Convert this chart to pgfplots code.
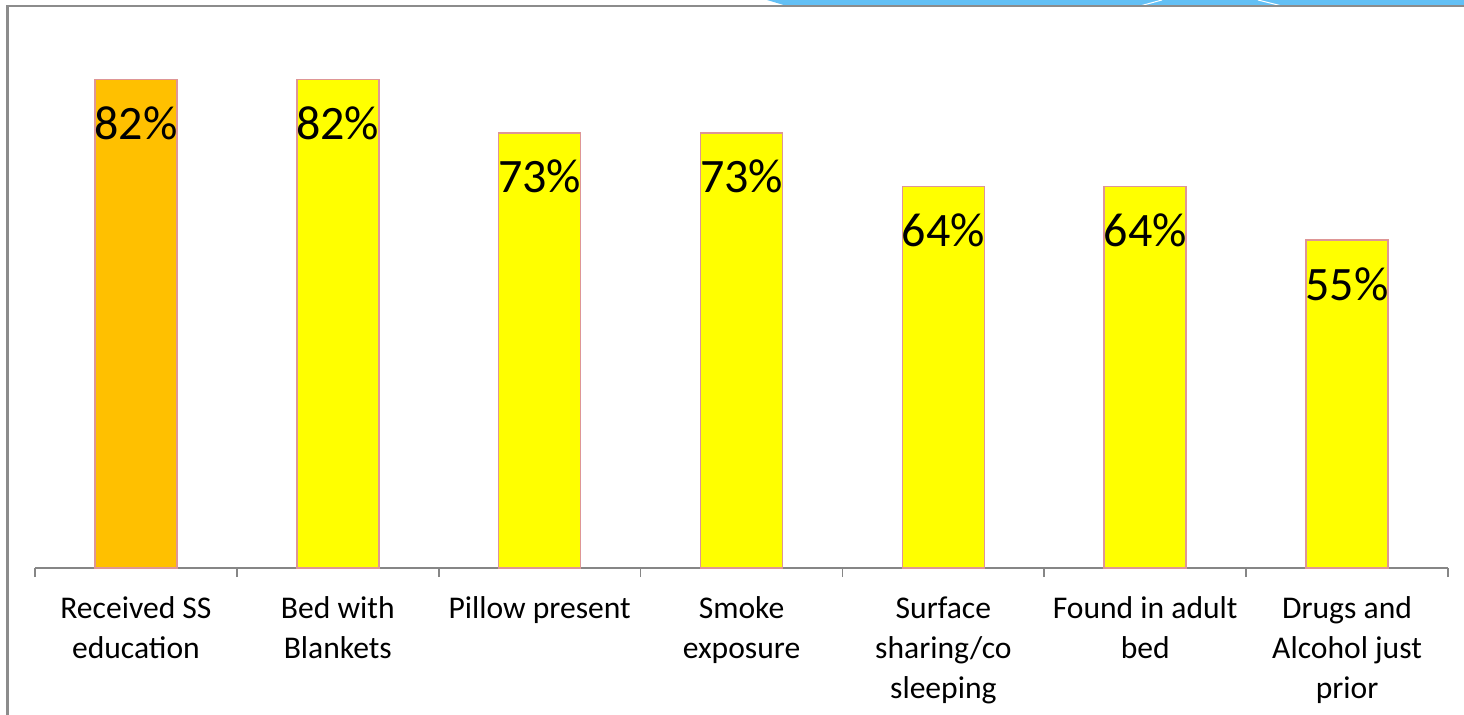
\documentclass[border=0pt]{standalone}
\usepackage{pgfplots}
\pgfplotsset{compat=1.18}
\usepackage{fontspec}
\setmainfont{Carlito}

\definecolor{barorange}{RGB}{255,192,0}
\definecolor{baryellow}{RGB}{255,255,0}
\definecolor{baredge}{RGB}{222,150,150}
\definecolor{frameGray}{RGB}{140,140,140}
\definecolor{axisGray}{RGB}{134,134,134}
\definecolor{bandBlue}{RGB}{99,192,245}

\begin{document}
\begin{tikzpicture}
  % page area
  \useasboundingbox (0,0) rectangle (732bp,357.5bp);
  % slide decoration: blue band and frame lines
  \fill[bandBlue] (383.5bp,357.5bp) -- (732bp,357.5bp) -- (732bp,354.5bp) -- (393.5bp,354.5bp) -- cycle;
  \draw[white, line width=0.5bp] (570bp,354.5bp) -- (581bp,357.5bp);
  \draw[white, line width=0.5bp] (629bp,357.5bp) -- (641bp,354.5bp);
  \draw[frameGray, line width=1.1bp] (3.75bp,0) -- (3.75bp,354.5bp) -- (732bp,354.5bp);

  \begin{axis}[
    at={(17.5bp,73.5bp)}, anchor=south west,
    scale only axis,
    width=706.5bp, height=268.2bp,
    xmin=-0.5, xmax=6.5,
    ymin=0, ymax=90,
    axis x line*=bottom,
    axis y line=none,
    ytick=\empty,
    x axis line style={draw=axisGray, line width=0.8bp},
    ybar, bar width=41bp, bar shift=0pt,
    xtick={0,1,2,3,4,5,6},
    major x tick style={draw=none},
    major tick length=0pt,
    xticklabels={Received SS\\education, Bed with\\Blankets, Pillow present,
      Smoke\\exposure, Surface\\sharing/co\\sleeping, Found in adult\\bed,
      Drugs and\\Alcohol just\\prior},
    xticklabel style={align=center, anchor=north, yshift=-11bp,
      font=\fontsize{15.8bp}{20bp}\selectfont, text=black},
    extra x ticks={-0.5,0.5,1.5,2.5,3.5,4.5,5.5,6.5},
    extra x tick labels={},
    extra x tick style={
      major tick length=4.5bp, tick align=outside,
      major x tick style={draw=axisGray, line width=0.8bp}},
    /pgf/number format/assume math mode=true,
    nodes near coords={\pgfmathprintnumber[fixed,precision=0]{\pgfplotspointmeta}\%},
    every node near coord/.append style={anchor=base, yshift=-30bp,
      font=\fontsize{24bp}{28bp}\selectfont, text=black},
    clip=false,
  ]
    \addplot[fill=barorange, draw=baredge, line width=0.75bp]
      coordinates {(0,82)};
    \addplot[fill=baryellow, draw=baredge, line width=0.75bp]
      coordinates {(1,82) (2,73) (3,73) (4,64) (5,64) (6,55)};
  \end{axis}
\end{tikzpicture}
\end{document}
